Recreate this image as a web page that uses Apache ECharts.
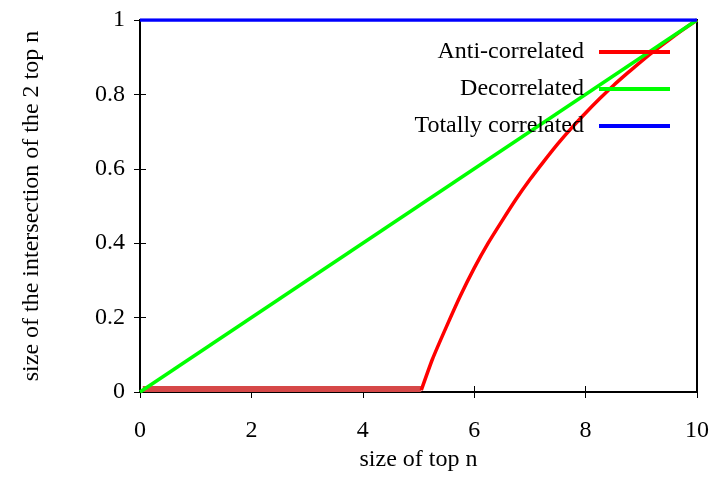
<!DOCTYPE html>
<html>
<head>
<meta charset="utf-8">
<script src="https://cdn.jsdelivr.net/npm/echarts@6/dist/echarts.min.js"></script>
<style>
	html, body { margin: 0; padding: 0; background: #fff; }
	#chart { width: 720px; height: 497px; }
</style>
</head>
<body>
<div id="chart"></div>
<script>
// values
const antiX = [5.05, 5.25, 5.5, 5.75, 6, 6.25, 6.5, 6.75, 7, 7.25, 7.5, 7.75, 8, 8.25, 8.5, 8.75, 9, 9.25, 9.5, 9.75, 10];
const antiY = [0.005, 0.088, 0.175, 0.258, 0.333, 0.4, 0.46, 0.518, 0.571, 0.62, 0.667, 0.71, 0.75, 0.788, 0.824, 0.857, 0.889, 0.919, 0.947, 0.974, 1];
const floorX = [0.05, 5.05];
const floorY = [0.008, 0.008];
const decorX = [0, 10];
const decorY = [0, 1];
const totalX = [0, 10];
const totalY = [1, 1];

const pairs = (xs, ys) => xs.map((x, i) => [x, ys[i]]);

const serif = "Liberation Serif";
const chart = echarts.init(document.getElementById("chart"));

const tickStyle = { show: true, inside: true, length: 6, lineStyle: { color: "#000", width: 1 } };

const option = {
	backgroundColor: "#fff",
	animation: false,
	grid: {
		left: 140, right: 23, top: 20, bottom: 105,
		show: true, borderColor: "#000", borderWidth: 2,
	},
	legend: {
		orient: "vertical",
		align: "right",
		right: 45,
		top: 35,
		itemWidth: 71,
		itemHeight: 4,
		itemGap: 13,
		icon: "rect",
		textStyle: { fontFamily: serif, fontSize: 24, color: "#000", padding: [0, 10, 0, 0] },
		data: ["Anti-correlated", "Decorrelated", "Totally correlated"],
	},
	xAxis: [
		{
			type: "value", min: 0, max: 10, interval: 2,
			name: "size of top n", nameLocation: "middle", nameGap: 55,
			nameTextStyle: { fontFamily: serif, fontSize: 24, color: "#000" },
			axisLine: { lineStyle: { color: "#000", width: 2 } },
			axisTick: tickStyle,
			axisLabel: { fontFamily: serif, fontSize: 24, color: "#000", margin: 27 },
			splitLine: { show: false },
		},
		{
			type: "value", min: 0, max: 10, interval: 2, position: "top",
			axisLine: { show: false },
			axisTick: tickStyle,
			axisLabel: { show: false },
			splitLine: { show: false },
		},
	],
	yAxis: [
		{
			type: "value", min: 0, max: 1, interval: 0.2,
			name: "size of the intersection of the 2 top n", nameLocation: "middle", nameGap: 96,
			nameTextStyle: { fontFamily: serif, fontSize: 24, color: "#000" },
			axisLine: { show: true, lineStyle: { color: "#000", width: 2 } },
			axisTick: tickStyle,
			axisLabel: { fontFamily: serif, fontSize: 24, color: "#000", margin: 15 },
			splitLine: { show: false },
		},
		{
			type: "value", min: 0, max: 1, interval: 0.2, position: "right",
			axisLine: { show: false },
			axisTick: tickStyle,
			axisLabel: { show: false },
			splitLine: { show: false },
		},
	],
	series: [
		{
			name: "floor", type: "line", symbol: "none",
			data: pairs(floorX, floorY),
			lineStyle: { color: "#d64848", width: 6 },
			itemStyle: { color: "#d64848" },
		},
		{
			name: "Anti-correlated", type: "line", symbol: "none", smooth: 0.2,
			data: pairs(antiX, antiY),
			lineStyle: { color: "#ff0000", width: 3.5 },
			itemStyle: { color: "#ff0000" },
		},
		{
			name: "Decorrelated", type: "line", symbol: "none",
			data: pairs(decorX, decorY),
			lineStyle: { color: "#00ff00", width: 3.5 },
			itemStyle: { color: "#00ff00" },
		},
		{
			name: "Totally correlated", type: "line", symbol: "none",
			data: pairs(totalX, totalY),
			lineStyle: { color: "#0000ff", width: 3.5 },
			itemStyle: { color: "#0000ff" },
		},
	],
};

chart.setOption(option);
</script>
</body>
</html>
